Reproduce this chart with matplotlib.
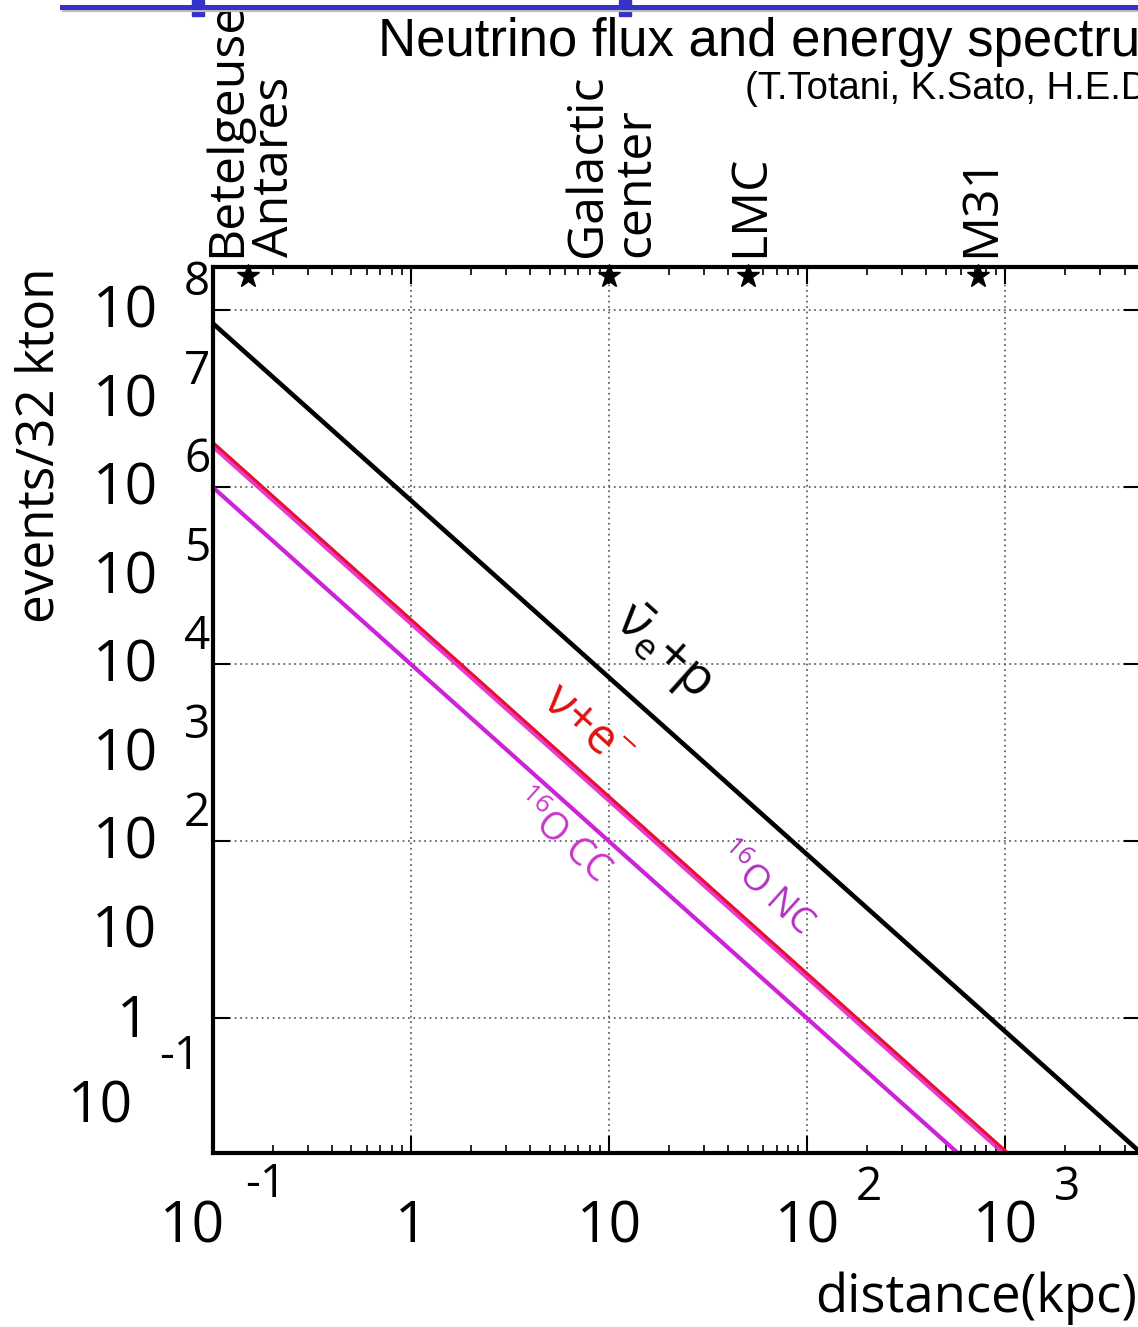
import matplotlib
matplotlib.use("Agg")
import matplotlib.pyplot as plt
from matplotlib.patches import Rectangle

# expected events in a 32 kton water detector vs. supernova distance
distance_kpc = [0.1, 1, 10, 100, 1000, 10000]
nuebar_p = [7.1e7, 7.1e5, 7.1e3, 71, 0.71, 0.0071]
nu_e = [3.2e6, 3.2e4, 320, 3.2, 0.032, 3.2e-4]
o16_nc = [3.0e6, 3.0e4, 300, 3.0, 0.030, 3.0e-4]
o16_cc = [1.0e6, 1.0e4, 100, 1.0, 0.010, 1.0e-4]

# known nearby sources marked on the top axis
source_names = ["Betelgeuse\nAntares", "Galactic\ncenter", "LMC", "M31"]
source_kpc = [0.15, 10, 50, 730]

x_exponents = [-1, 0, 1, 2, 3]
y_exponents = [8, 7, 6, 5, 4, 3, 2, 1, 0, -1]

W, H = 1138, 1327
label_font = "Open Sans"
plt.rcParams["font.family"] = [label_font, "DejaVu Sans"]
plt.rcParams["mathtext.fontset"] = "custom"
plt.rcParams["mathtext.rm"] = label_font
plt.rcParams["mathtext.it"] = label_font

fig = plt.figure(figsize=(W / 100, H / 100), dpi=100)
ax = fig.add_axes([213 / W, 1 - 1153 / H, (1141 - 213) / W, (1153 - 267) / H])

ax.plot(distance_kpc, nuebar_p, color="black", lw=3.3)
ax.plot(distance_kpc, o16_cc, color="#cc22d8", lw=3.0)
ax.plot(distance_kpc, o16_nc, color="#e626c8", lw=4.6, alpha=0.9)
ax.plot(distance_kpc, nu_e, color="#e8102e", lw=2.2)

ax.set_xscale("log")
ax.set_yscale("log")
ax.set_xlim(10 ** -1, 10 ** 3.685)
ax.set_ylim(10 ** -1.52, 10 ** 8.49)

ax.grid(True, which="major", color="#666666", ls=(0, (1, 2)), lw=1.3)
ax.tick_params(which="both", direction="in", top=True, right=True,
               labelbottom=False, labelleft=False, color="black")
ax.tick_params(which="major", length=12, width=1.5)
ax.tick_params(which="minor", length=6, width=1.2)
for s in ax.spines.values():
    s.set_linewidth(3)

# sources: stars on the top edge and rotated names above
ytop = ax.get_ylim()[1]
for name, d in zip(source_names, source_kpc):
    ax.plot([d], [ytop * 0.8], marker="*", color="black", ms=17, clip_on=False, zorder=5)
    ax.annotate(name, xy=(d, 1), xycoords=("data", "axes fraction"),
                xytext=(3, 10), textcoords="offset pixels",
                rotation=90, ha="center", va="bottom", multialignment="left",
                fontsize=36, linespacing=0.96)

# y tick labels, drawn as "10" plus a raised exponent
ytr = ax.get_yaxis_transform()
big, small = 41, 33
for e in y_exponents:
    v = 10.0 ** e
    if e >= 2:
        ax.annotate("10", xy=(0, v), xycoords=ytr, xytext=(-55, -3),
                    textcoords="offset pixels", ha="right", va="center", fontsize=big)
        ax.annotate(str(e), xy=(0, v), xycoords=ytr, xytext=(-29, 27),
                    textcoords="offset pixels", ha="left", va="center", fontsize=small)
    elif e == 1:
        ax.annotate("10", xy=(0, v), xycoords=ytr, xytext=(-56, -3),
                    textcoords="offset pixels", ha="right", va="center", fontsize=big)
    elif e == 0:
        ax.annotate("1", xy=(0, v), xycoords=ytr, xytext=(-63, -4),
                    textcoords="offset pixels", ha="right", va="center", fontsize=big)
    else:
        ax.annotate("10", xy=(0, v), xycoords=ytr, xytext=(-80, -1),
                    textcoords="offset pixels", ha="right", va="center", fontsize=big)
        ax.annotate(str(e), xy=(0, v), xycoords=ytr, xytext=(-13, 50),
                    textcoords="offset pixels", ha="right", va="center", fontsize=small)

# x tick labels
xtr = ax.get_xaxis_transform()
for e in x_exponents:
    v = 10.0 ** e
    if e == -1:
        ax.annotate("10", xy=(v, 0), xycoords=xtr, xytext=(-21, -75),
                    textcoords="offset pixels", ha="center", va="center", fontsize=big)
        ax.annotate("-1", xy=(v, 0), xycoords=xtr, xytext=(53, -32),
                    textcoords="offset pixels", ha="center", va="center", fontsize=small)
    elif e in (0, 1):
        ax.annotate("1" if e == 0 else "10", xy=(v, 0), xycoords=xtr, xytext=(0, -75),
                    textcoords="offset pixels", ha="center", va="center", fontsize=big)
    else:
        ax.annotate("10", xy=(v, 0), xycoords=xtr, xytext=(0, -75),
                    textcoords="offset pixels", ha="center", va="center", fontsize=big)
        ax.annotate(str(e), xy=(v, 0), xycoords=xtr, xytext=(62, -35),
                    textcoords="offset pixels", ha="center", va="center", fontsize=small)

fig.text(40 / W, 1 - 445 / H, "events/32 kton", rotation=90, ha="center", va="center",
         fontsize=37)
fig.text(1137 / W, 1 - 1298 / H, "distance(kpc)", ha="right", va="center", fontsize=38)

# curve labels
def px(x, y):
    return x / W, 1 - y / H

fig.text(*px(662, 652), r"$\bar{\nu}_{e}$+p", rotation=-42, rotation_mode="anchor",
         ha="center", va="center", fontsize=38, color="black")
fig.text(*px(586, 728), r"$\nu$+e$^{-}$", rotation=-42, rotation_mode="anchor",
         ha="center", va="center", fontsize=35, color="#e01010")
fig.text(*px(560, 838), r"$^{16}$O CC", rotation=-42, rotation_mode="anchor",
         ha="center", va="center", fontsize=27, color="#cc33cc")
fig.text(*px(764, 890), r"$^{16}$O NC", rotation=-42, rotation_mode="anchor",
         ha="center", va="center", fontsize=26, color="#b030c0")

# heading
fig.text(378 / W, 1 - 42 / H, "Neutrino flux and energy spectrum", ha="left", va="center",
         fontsize=38, family="Liberation Sans")
fig.text(745 / W, 1 - 89 / H, "(T.Totani, K.Sato, H.E.Dalhed, J.R.Wilson)", ha="left",
         va="center", fontsize=27.5, family="Liberation Sans")

# blue rule with markers along the top edge
fig.add_artist(plt.Line2D([64 / W, 1], [1 - 10 / H, 1 - 10 / H], color="#bbbbbb", lw=3))
fig.add_artist(plt.Line2D([62 / W, 1], [1 - 7 / H, 1 - 7 / H], color="#3333cc", lw=3.6))
for bx in (198, 625):
    fig.add_artist(Rectangle(((bx - 6) / W, 1 - 16 / H), 12 / W, 16 / H,
                             color="#3333cc", transform=fig.transFigure))

fig.savefig("out.png", dpi=100)
